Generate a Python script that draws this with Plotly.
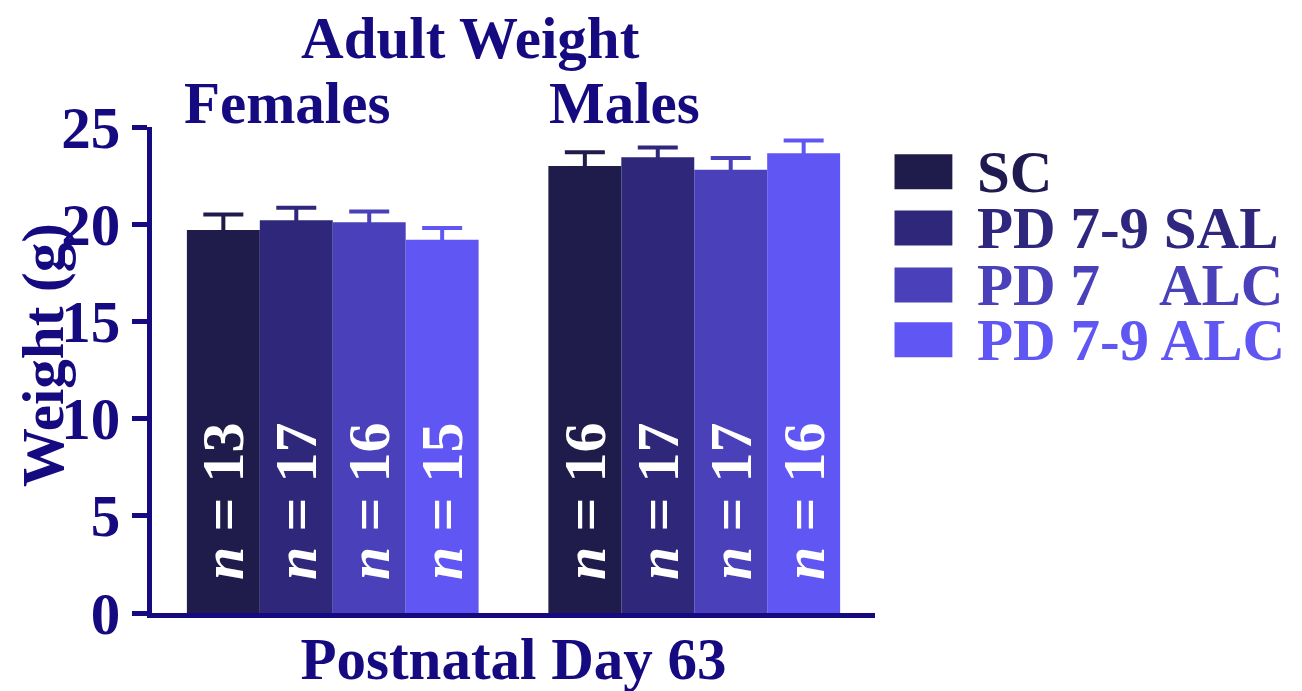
import plotly.graph_objects as go

groups = ["Females", "Males"]
treatments = ["SC", "PD 7-9 SAL", "PD 7\u00a0\u00a0\u00a0\u00a0ALC", "PD 7-9 ALC"]
weights = {
    "SC": [19.7, 23.0],
    "PD 7-9 SAL": [20.2, 23.45],
    "PD 7 ALC": [20.1, 22.8],
    "PD 7-9 ALC": [19.2, 23.65],
}
sem = {
    "SC": [0.8, 0.7],
    "PD 7-9 SAL": [0.65, 0.5],
    "PD 7 ALC": [0.55, 0.6],
    "PD 7-9 ALC": [0.6, 0.65],
}
n_counts = {
    "SC": [13, 16],
    "PD 7-9 SAL": [17, 17],
    "PD 7 ALC": [16, 17],
    "PD 7-9 ALC": [15, 16],
}
keys = ["SC", "PD 7-9 SAL", "PD 7 ALC", "PD 7-9 ALC"]
y_ticks = [0, 5, 10, 15, 20, 25]

bar_colors = ["rgb(31,27,74)", "rgb(46,39,122)", "rgb(73,64,186)", "rgb(96,86,244)"]
text_colors = ["rgb(31,27,80)", "rgb(46,39,125)", "rgb(73,64,186)", "rgb(96,86,244)"]
navy = "rgb(22,10,128)"
FONT = "Liberation Serif"
FS = 59

fig = go.Figure()

for key, color in zip(keys, bar_colors):
    fig.add_trace(
        go.Bar(
            x=groups,
            y=weights[key],
            name=key,
            marker=dict(color=color, line=dict(width=0)),
            # upper whisker only; the lower cap is tucked inside the bar
            error_y=dict(
                type="data",
                symmetric=False,
                array=sem[key],
                arrayminus=[0.15, 0.15],
                color=color,
                thickness=4,
                width=20,
            ),
            text=[f"\u00a0\u00a0<i>n</i> = {n}" for n in n_counts[key]],
            textposition="inside",
            insidetextanchor="start",
            textangle=-90,
            insidetextfont=dict(family=FONT, size=60, color="white", weight="bold"),
            showlegend=False,
        )
    )

# hand-built legend (big square swatches)
legend_y = [0.908, 0.792, 0.675, 0.562]
for label, color, tcolor, ly in zip(treatments, bar_colors, text_colors, legend_y):
    fig.add_shape(
        type="rect", xref="paper", yref="paper",
        x0=1.027, x1=1.107, y0=ly - 0.036, y1=ly + 0.036,
        fillcolor=color, line=dict(width=0),
    )
    fig.add_annotation(
        xref="paper", yref="paper", x=1.139, y=ly,
        xanchor="left", yanchor="middle", showarrow=False,
        text=label, font=dict(family=FONT, size=FS, color=tcolor, weight="bold"),
    )

fig.add_annotation(
    xref="paper", yref="paper", x=0.187, y=1.049, showarrow=False,
    xanchor="center", yanchor="middle",
    text="Females", font=dict(family=FONT, size=FS, color=navy, weight="bold"),
)
fig.add_annotation(
    xref="paper", yref="paper", x=0.653, y=1.049, showarrow=False,
    xanchor="center", yanchor="middle",
    text="Males", font=dict(family=FONT, size=FS, color=navy, weight="bold"),
)
fig.add_annotation(
    xref="paper", yref="paper", x=-0.15, y=0.53, showarrow=False,
    textangle=-90, xanchor="center", yanchor="middle",
    text="Weight (g)", font=dict(family=FONT, size=FS, color=navy, weight="bold"),
)

fig.update_layout(
    width=1302,
    height=691,
    margin=dict(l=144, r=435, t=119, b=86),
    paper_bgcolor="white",
    plot_bgcolor="white",
    barmode="group",
    bargap=0.193,
    bargroupgap=0,
    title=dict(
        text="Adult Weight", x=0.355, y=0.958, xanchor="center", yanchor="middle",
        font=dict(family=FONT, size=FS, color=navy, weight="bold"),
    ),
    xaxis=dict(
        showline=True, linewidth=5, linecolor=navy,
        showticklabels=False, ticks="", showgrid=False, zeroline=False,
        title=dict(text="Postnatal Day 63", standoff=22,
                   font=dict(family=FONT, size=FS, color=navy, weight="bold")),
    ),
    yaxis=dict(
        range=[0, 25], tickvals=y_ticks,
        showline=True, linewidth=5, linecolor=navy,
        ticks="outside", ticklen=15, tickwidth=5, tickcolor=navy,
        tickfont=dict(family=FONT, size=FS, color=navy, weight="bold"),
        showgrid=False, zeroline=False,
    ),
)

fig.write_html("out.html")
